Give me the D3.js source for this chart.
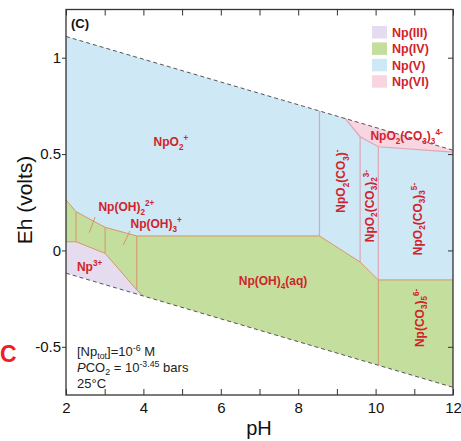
<!DOCTYPE html>
<html>
<head>
<meta charset="utf-8">
<script src="https://cdn.jsdelivr.net/npm/d3@7"></script>
<style>
  body { margin: 0; background: #fff; }
  svg { display: block; font-family: "Liberation Sans", Arial, sans-serif; }
</style>
</head>
<body>
<script>
"use strict";

//axis ticks
var PH_TICKS = [2, 3, 4, 5, 6, 7, 8, 9, 10, 11, 12];
var PH_LABELS = ["2", "", "4", "", "6", "", "8", "", "10", "", "12"];
var EH_TICKS = [-0.5, 0, 0.5, 1];
var EH_LABELS = ["-0.5", "0", "0.5", "1"];

//water stability limits, [pH, Eh]
var upperWater = [[2, 1.11], [12, 0.52]];
var lowerWater = [[2, -0.118], [12, -0.71]];

//one stability field per oxidation state, [pH, Eh]
var fieldNames = ["Np(III)", "Np(IV)", "Np(V)", "Np(VI)"];
var npIII = [[2, 0.045], [2.26, 0.045], [3.01, -0.015], [3.83, -0.205], [4.0, -0.236], [2, -0.118]];
var npIV = [[2, 0.262], [2.26, 0.201], [3.01, 0.12], [3.83, 0.075], [8.55, 0.075], [9.6, -0.06],
            [10.07, -0.153], [12, -0.153], [12, -0.71], [4.0, -0.236], [3.83, -0.205],
            [3.01, -0.015], [2.26, 0.045], [2, 0.045]];
var npV = [[2, 1.11], [9.21, 0.685], [9.6, 0.59], [10.07, 0.538], [12, 0.51], [12, -0.153],
           [10.07, -0.153], [9.6, -0.06], [8.55, 0.075], [3.83, 0.075], [3.01, 0.12],
           [2.26, 0.201], [2, 0.262]];
var npVI = [[9.21, 0.685], [12, 0.52], [12, 0.51], [10.07, 0.538], [9.6, 0.59]];

//species boundaries inside the Np(III)/Np(IV) fields
var lowLines = [
    [[2, 0.262], [2.26, 0.201], [3.01, 0.12], [3.83, 0.075], [8.55, 0.075], [9.6, -0.06], [10.07, -0.153], [12, -0.153]],
    [[2, 0.045], [2.26, 0.045], [3.01, -0.015], [3.83, -0.205], [4.0, -0.236]],
    [[2.26, 0.201], [2.26, 0.045]],
    [[3.01, 0.12], [3.01, -0.015]],
    [[3.83, 0.075], [3.83, -0.205]],
    [[10.07, -0.153], [10.07, -0.594]]
];
//species boundaries inside the Np(V)/Np(VI) fields
var highLines = [
    [[9.21, 0.685], [9.6, 0.59], [10.07, 0.538], [12, 0.51]],
    [[8.55, 0.724], [8.55, 0.075]],
    [[9.6, 0.59], [9.6, -0.06]],
    [[10.07, 0.538], [10.07, -0.153]]
];

//species labels: _{} subscript, ^{} superscript
var speciesText = ["NpO_{2}^{+}", "Np(OH)_{2}^{2+}", "Np(OH)_{3}^{+}", "Np^{3+}", "Np(OH)_{4}(aq)",
                   "NpO_{2}(CO_{3})_{3}^{4-}", "NpO_{2}(CO_{3})^{-}", "NpO_{2}(CO_{3})_{2}^{3-}",
                   "NpO_{2}(CO_{3})_{3}^{5-}", "Np(CO_{3})_{5}^{6-}"];
var speciesPH = [4.71, 3.56, 4.33, 2.61, 7.35, 10.8, 9.21, 9.95, 11.19, 11.24];
var speciesEh = [0.542, 0.204, 0.114, -0.107, -0.179, 0.573, 0.36, 0.23, 0.163, -0.35];
var speciesUpright = [true, true, true, true, true, true, false, false, false, false];

//leader lines from the hydroxide labels into their narrow fields
var leaders = [
    [[2.75, 0.173], [2.6, 0.092]],
    [[3.65, 0.1], [3.48, 0.028]]
];

var conditions = ["[Np_{tot}]=10^{-6} M", "*{P}CO_{2} = 10^{-3.45} bars", "25°C"];

var WIDTH = 461, HEIGHT = 441;
var FIELD_COLORS = ["#e6dcef", "#c4df9d", "#cfe8f6", "#f9d4e1"];
var LABEL_RED = "#d2232a";

var svg = d3.select("body").append("svg")
    .attr("width", WIDTH)
    .attr("height", HEIGHT);

var x = d3.scaleLinear().domain([2, 12]).range([66, 453]);
var y = d3.scaleLinear().domain([-0.75, 1.25]).range([395, 9.5]);

var line = d3.line()
    .x(function(d) { return x(d[0]); })
    .y(function(d) { return y(d[1]); });

//writes a label with sub/superscripts as tspans
function richText(sel, str, fs, sub, sup) {
    var re = /([_^*])\{([^}]*)\}|([^_^*]+)/g, m, shift = 0;
    while ((m = re.exec(str)) !== null) {
        var target = 0, size = fs;
        if (m[1] === "_") { target = fs * sub; size = fs * 0.68; }
        if (m[1] === "^") { target = -fs * sup; size = fs * 0.68; }
        var t = sel.append("tspan")
            .attr("dy", target - shift)
            .attr("font-size", size)
            .text(m[1] ? m[2] : m[3]);
        if (m[1] === "*") t.attr("font-style", "italic");
        shift = target;
    }
}

//fields
var fields = [npIII, npIV, npV, npVI];
svg.append("g").selectAll("path")
    .data(fields)
    .enter()
    .append("path")
    .attr("d", function(d) { return line(d) + "Z"; })
    .attr("fill", function(d, i) { return FIELD_COLORS[i]; })
    .attr("stroke", "none");

//boundaries
svg.append("g").selectAll("path")
    .data(highLines)
    .enter()
    .append("path")
    .attr("d", line)
    .attr("fill", "none")
    .attr("stroke", "#dba6b6")
    .attr("stroke-width", 1.2);

svg.append("g").selectAll("path")
    .data(lowLines.concat(leaders))
    .enter()
    .append("path")
    .attr("d", line)
    .attr("fill", "none")
    .attr("stroke", "#d69466")
    .attr("stroke-width", 1);

//water limits
svg.append("g").selectAll("path")
    .data([upperWater, lowerWater])
    .enter()
    .append("path")
    .attr("d", line)
    .attr("fill", "none")
    .attr("stroke", "#555")
    .attr("stroke-width", 1)
    .attr("stroke-dasharray", "4,3");

//axes
function styleAxis(g) {
    g.select(".domain").remove();
    g.selectAll("line").attr("stroke", "#333");
    g.selectAll("text").attr("fill", "#111").attr("font-size", 15)
        .attr("font-family", "Liberation Sans, Arial, sans-serif");
}

svg.append("g")
    .attr("transform", "translate(66,0)")
    .call(d3.axisLeft(y).tickValues(EH_TICKS)
        .tickFormat(function(d, i) { return EH_LABELS[i]; })
        .tickSize(4).tickPadding(1))
    .call(styleAxis);

svg.append("g")
    .attr("transform", "translate(453,0)")
    .call(d3.axisRight(y).tickValues(EH_TICKS).tickFormat("").tickSize(-5))
    .call(styleAxis);

svg.append("g")
    .attr("transform", "translate(0,395)")
    .call(d3.axisBottom(x).tickValues(PH_TICKS)
        .tickFormat(function(d, i) { return PH_LABELS[i]; })
        .tickSizeInner(-6).tickSizeOuter(0).tickPadding(7))
    .call(styleAxis);

svg.append("g")
    .attr("transform", "translate(0,9.5)")
    .call(d3.axisTop(x).tickValues(PH_TICKS).tickFormat("").tickSizeInner(-6).tickSizeOuter(0))
    .call(styleAxis);

//frame
svg.append("rect")
    .attr("x", 66).attr("y", 9.5)
    .attr("width", 453 - 66).attr("height", 395 - 9.5)
    .attr("fill", "none")
    .attr("stroke", "#333")
    .attr("stroke-width", 1.3);

//species labels
svg.append("g").selectAll("text")
    .data(speciesText)
    .enter()
    .append("text")
    .attr("transform", function(d, i) {
        var t = "translate(" + x(speciesPH[i]) + "," + y(speciesEh[i]) + ")";
        return speciesUpright[i] ? t : t + " rotate(-90)";
    })
    .attr("text-anchor", "middle")
    .attr("font-weight", "bold")
    .attr("fill", LABEL_RED)
    .each(function(d) { richText(d3.select(this), d, 12, 0.3, 0.42); });

//legend
var legend = svg.append("g").attr("transform", "translate(372,26)");
legend.selectAll("rect")
    .data(fieldNames)
    .enter()
    .append("rect")
    .attr("x", 0)
    .attr("y", function(d, i) { return i * 16.4; })
    .attr("width", 15)
    .attr("height", 12.5)
    .attr("fill", function(d, i) { return FIELD_COLORS[i]; });
legend.selectAll("text")
    .data(fieldNames)
    .enter()
    .append("text")
    .attr("x", 20)
    .attr("y", function(d, i) { return i * 16.4 + 11; })
    .attr("font-size", 12.5)
    .attr("font-weight", "bold")
    .attr("fill", LABEL_RED)
    .text(function(d) { return d; });

//panel letter and conditions
svg.append("text")
    .attr("x", 71).attr("y", 28)
    .attr("font-size", 13)
    .attr("font-weight", "bold")
    .attr("fill", "#111")
    .text("(C)");

svg.append("g").selectAll("text")
    .data(conditions)
    .enter()
    .append("text")
    .attr("x", 77)
    .attr("y", function(d, i) { return 356 + i * 16; })
    .attr("fill", "#222")
    .each(function(d) { richText(d3.select(this), d, 13, 0.22, 0.36); });

svg.append("text")
    .attr("x", 0).attr("y", 362)
    .attr("font-size", 23)
    .attr("font-weight", "bold")
    .attr("fill", "#ee1c24")
    .text("C");

//axis titles
svg.append("text")
    .attr("transform", "translate(32,200) rotate(-90)")
    .attr("text-anchor", "middle")
    .attr("font-size", 21)
    .attr("fill", "#111")
    .text("Eh (volts)");

svg.append("text")
    .attr("x", 259).attr("y", 435)
    .attr("text-anchor", "middle")
    .attr("font-size", 20)
    .attr("fill", "#111")
    .text("pH");
</script>
</body>
</html>
